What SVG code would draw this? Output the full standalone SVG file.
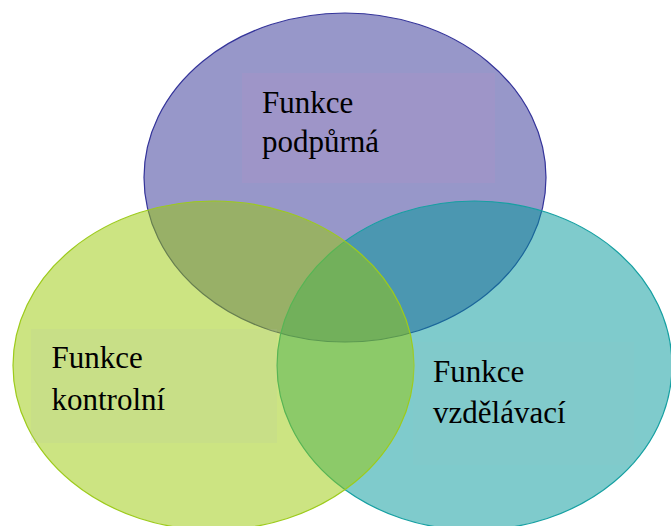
<svg xmlns="http://www.w3.org/2000/svg" width="671" height="526" viewBox="0 0 671 526">
  <style>
    text { font-family: "Liberation Serif", "Times New Roman", "DejaVu Serif", serif; font-size: 31px; fill: #000000; }
    .circ { stroke-width: 1.2; }
  </style>
  <rect width="671" height="526" fill="#ffffff"/>
  <g id="node-podpurna-circle">
    <ellipse class="circ" cx="345" cy="177.5" rx="201" ry="164.5" fill="rgb(47,47,147)" fill-opacity="0.5" stroke="#34349a"/>
  </g>
  <g id="node-vzdelavaci-circle">
    <ellipse class="circ" cx="474.5" cy="365.5" rx="197.5" ry="164.5" fill="rgb(0,151,153)" fill-opacity="0.5" stroke="#16a0a2"/>
  </g>
  <g id="node-kontrolni-circle">
    <ellipse class="circ" cx="213.5" cy="365.5" rx="200.5" ry="164.5" fill="rgb(153,201,5)" fill-opacity="0.5" stroke="#9dcb1c"/>
  </g>
  <g id="node-podpurna">
    <rect x="242" y="73" width="253" height="110" fill="rgb(198,144,194)" fill-opacity="0.15"/>
    <text x="262" y="112.7">Funkce</text>
    <text x="262" y="151.5">podpůrná</text>
  </g>
  <g id="node-kontrolni">
    <rect x="31" y="329" width="246" height="114" fill="rgb(184,195,170)" fill-opacity="0.15"/>
    <text x="51.5" y="368.3">Funkce</text>
    <text x="51.5" y="410">kontrolní</text>
  </g>
  <g id="node-vzdelavaci">
    <rect x="413" y="342" width="221" height="123" fill="rgb(140,203,200)" fill-opacity="0.15"/>
    <text x="433" y="381.7">Funkce</text>
    <text x="433" y="422.7">vzdělávací</text>
  </g>
  <g id="connectors"></g>
</svg>
